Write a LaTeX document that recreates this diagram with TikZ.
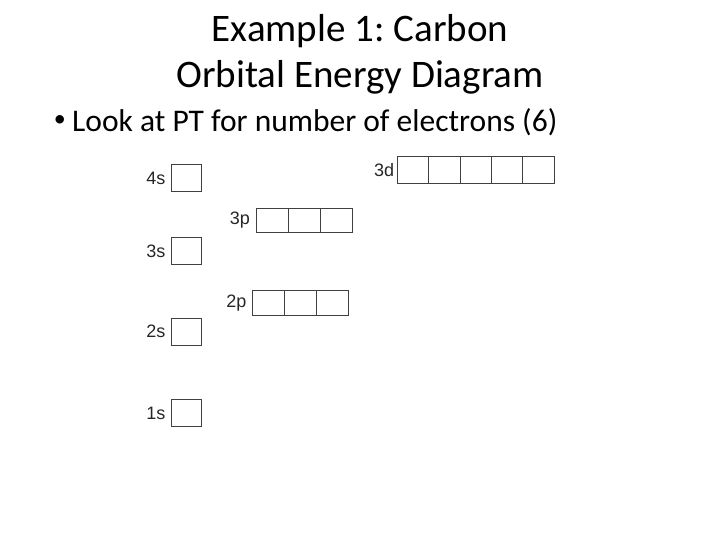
\documentclass[tikz,border=0pt]{standalone}
\usepackage{fontspec}
\setmainfont{Carlito}
\newfontfamily\labelfont{Liberation Sans}
\usetikzlibrary{positioning}
\frenchspacing

\begin{document}
\begin{tikzpicture}
	[   x=1pt,y=-1pt,
	    obox/.style={draw=black!75,line width=0.9pt,minimum width=#1,inner sep=0pt,outer sep=0pt},
	    olabel/.style={font=\labelfont\fontsize{18}{18}\selectfont,text=black!85,inner sep=0pt},
	]
	\useasboundingbox (0,0) rectangle (720,540);
	\node[font=\fontsize{39}{46}\selectfont,align=center] (title) at (360,54) {Example 1: Carbon\\Orbital Energy Diagram};
	\node[font=\fontsize{31.5}{34}\selectfont,anchor=west,inner sep=0pt] (bullet) at (72,122) {Look at PT for number of electrons (6)};
	\node[font=\fontsize{24}{24}\selectfont,anchor=east,inner sep=0pt] (dot) at (66,121) {\textbullet};
	
	% s orbitals
	\foreach \n/\y in {4/178.3,3/251.3,2/331.6,1/413}
	{
		\node[obox=30pt,minimum height=27pt] (s\n) at (186.7,\y) {};
		\node[olabel,left=6pt of s\n] (ls\n) {\n s};
	}
	
	% p orbitals
	\foreach \n/\x/\y in {3/256/220.3,2/252.7/302.7}
	{
		\foreach \i in {1,2,3}
			\node[obox=32pt,minimum height=24.5pt] (p\n-\i) at ({\x+(\i-0.5)*32},\y) {};
		\node[olabel,left=6pt of p\n-1] (lp\n) {\n p};
	}
	
	% d orbitals
	\foreach \i in {1,...,5}
		\node[obox=31.4pt,minimum height=26.6pt] (d3-\i) at ({397.3+(\i-0.5)*31.4},170) {};
	\node[olabel,left=3pt of d3-1] (ld3) {3d};
\end{tikzpicture}
\end{document}
